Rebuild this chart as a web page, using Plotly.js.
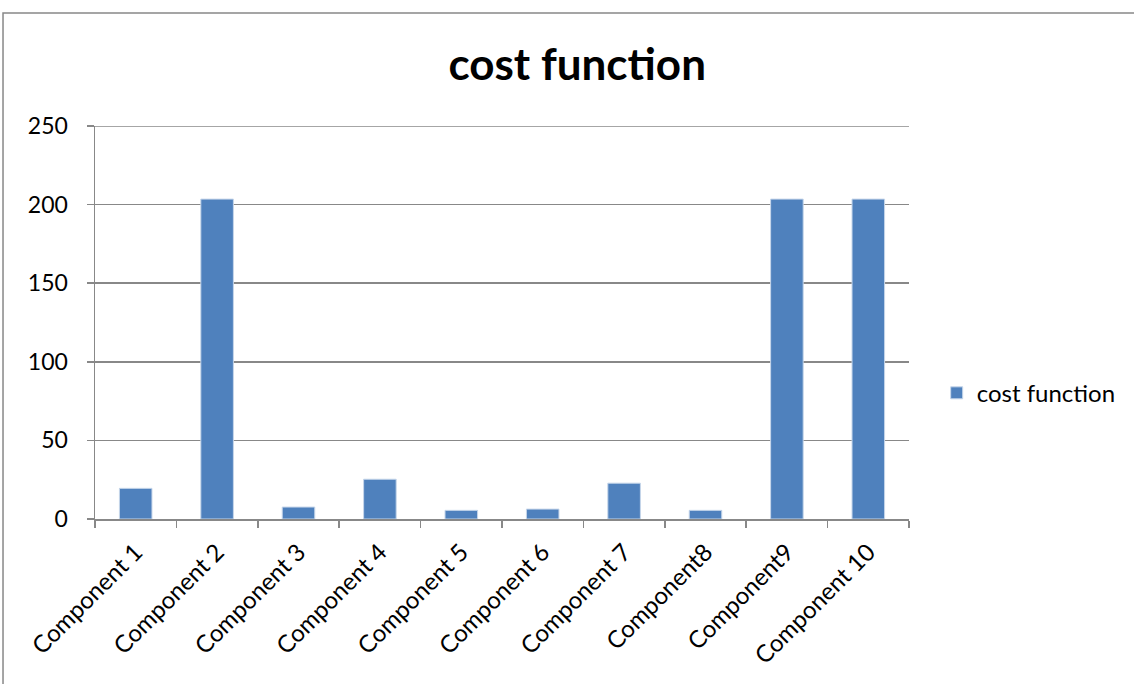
<!DOCTYPE html>
<html>
<head>
<meta charset="utf-8">
<script src="https://cdn.plot.ly/plotly-3.0.1.min.js"></script>
<style>html,body{margin:0;padding:0;background:#fff;}#chart{width:1134px;height:684px;}</style>
</head>
<body>
<div id="chart"></div>
<script>
var categories = ["Component 1","Component 2","Component 3","Component 4","Component 5","Component 6","Component 7","Component8","Component9","Component 10"];
var costValues = [19.5, 203.5, 7.6, 25.3, 5.5, 6.3, 22.8, 5.5, 203.5, 203.5];
var seriesName = "cost function";
var yTicks = [0, 50, 100, 150, 200, 250];

var FONT = "Lato, 'Open Sans', sans-serif";
var trace = {
  type: "bar",
  x: categories,
  y: costValues,
  name: seriesName,
  marker: {color: "#4F81BD", line: {color: "#C6D6EA", width: 1}},
  showlegend: true
};
var layout = {
  width: 1134, height: 684,
  margin: {l: 95, r: 225, t: 126, b: 165, pad: 0, autoexpand: false},
  paper_bgcolor: "#fff", plot_bgcolor: "#fff",
  title: {text: "<b>cost function</b>", font: {family: FONT, size: 44, color: "#000"}, x: 0.509, xanchor: "center", y: 0.905, yanchor: "middle"},
  bargap: 0.6,
  xaxis: {
    type: "category", tickangle: -45, tickson: "boundaries", ticks: "outside", ticklen: 7, tickwidth: 1.5, tickcolor: "#888",
    showline: true, linecolor: "#888", linewidth: 1.5, showgrid: false, ticklabelstandoff: 8,
    tickfont: {family: FONT, size: 24, color: "#000"}, fixedrange: true
  },
  yaxis: {
    range: [0, 250], tickvals: yTicks, ticktext: yTicks.map(String), ticks: "outside", ticklen: 7, tickwidth: 1.5, tickcolor: "#888",
    showline: true, linecolor: "#888", linewidth: 1.5, showgrid: true, gridcolor: "#888", gridwidth: 1.5, zeroline: false,
    ticklabelstandoff: 14,
    tickfont: {family: FONT, size: 23, color: "#000"}, fixedrange: true
  },
  legend: {x: 1.034, xanchor: "left", y: 0.32, yanchor: "middle", font: {family: FONT, size: 24, color: "#000"}, bgcolor: "rgba(0,0,0,0)", itemwidth: 30},
  shapes: [
    {type: "rect", xref: "paper", yref: "paper", x0: -0.113, x1: 1.35, y0: -0.6, y1: 1.2875, line: {color: "#888", width: 1.5}, fillcolor: "rgba(0,0,0,0)", layer: "below"},
    {type: "line", xref: "paper", yref: "y", x0: 0, x1: 1, y0: yTicks[yTicks.length - 1], y1: yTicks[yTicks.length - 1], line: {color: "#888", width: 1.5}, layer: "below"}
  ]
};
Plotly.newPlot("chart", [trace], layout, {displayModeBar: false, staticPlot: true});
</script>
</body>
</html>
